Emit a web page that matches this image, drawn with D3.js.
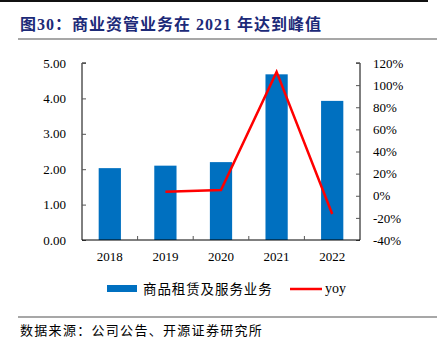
<!DOCTYPE html>
<html><head><meta charset="utf-8">
<script src="https://cdn.jsdelivr.net/npm/d3@7"></script>
<style>body{margin:0;background:#fff}svg{display:block}</style>
</head><body>
<svg id="c" width="437" height="349"></svg>
<script>
const categories = ["2018","2019","2020","2021","2022"];
const revenue = [2.03, 2.10, 2.20, 4.68, 3.93];
const yoy = [null, 3.7, 5.2, 112, -16.5];
const leftTicks = [0,1,2,3,4,5];
const rightTicks = [-40,-20,0,20,40,60,80,100,120];
const title = "图30：商业资管业务在 2021 年达到峰值";
const seriesNames = ["商品租赁及服务业务","yoy"];
const source = "数据来源：公司公告、开源证券研究所";

const svg = d3.select("#c");
const serif = "'Liberation Serif','Times New Roman',serif";
const cjk = "'Noto Sans CJK SC','Noto Sans CJK JP',sans-serif";
const mixed = "'Liberation Serif','Noto Sans CJK SC',serif";

// header lines
svg.append("line").attr("x1",0).attr("x2",428).attr("y1",1).attr("y2",1).attr("stroke","#111").attr("stroke-width",2);
svg.append("text").attr("x",20).attr("y",30).attr("font-family",mixed).attr("font-weight","bold")
  .attr("font-size",16).attr("letter-spacing",1).attr("fill","#1c2a78").text(title);
svg.append("line").attr("x1",18).attr("x2",437).attr("y1",39).attr("y2",39).attr("stroke","#8a8a8a").attr("stroke-width",1.5);

const L=82, R=360, T=63, B=240;
const x = d3.scaleBand().domain(categories).range([L,R]).padding(0);
const yL = d3.scaleLinear().domain([0,5]).range([B,T]);
const yR = d3.scaleLinear().domain([-40,120]).range([B,T]);
const bw = x.step()*0.4;

svg.append("g").selectAll("rect").data(categories).join("rect")
  .attr("x",d=>x(d)+x.bandwidth()/2-bw/2).attr("width",bw)
  .attr("y",(d,i)=>yL(revenue[i])).attr("height",(d,i)=>B-yL(revenue[i]))
  .attr("fill","#0070c0");

// left axis
const gl = svg.append("g").attr("transform",`translate(${L},0)`)
  .call(d3.axisRight(yL).tickValues(leftTicks).tickSize(4).tickFormat(d3.format(".2f")));
gl.select(".domain").attr("stroke","#000").attr("d",`M4,${T}H0V${B}`);
gl.selectAll(".tick line").attr("stroke","#555");
gl.selectAll("text").attr("x",-16).attr("text-anchor","end").attr("font-family",serif).attr("font-size",13).attr("fill","#000");

// right axis
const gr = svg.append("g").attr("transform",`translate(${R},0)`)
  .call(d3.axisLeft(yR).tickValues(rightTicks).tickSize(4).tickFormat(d=>d+"%"));
gr.select(".domain").attr("stroke","#000").attr("d",`M-4,${T}H0V${B}`);
gr.selectAll(".tick line").attr("stroke","#555");
gr.selectAll("text").attr("x",13).attr("text-anchor","start").attr("font-family",serif).attr("font-size",13).attr("fill","#000");

// x axis
const gx = svg.append("g").attr("transform",`translate(0,${B})`)
  .call(d3.axisBottom(x).tickSize(0).tickPadding(12));
gx.select(".domain").attr("stroke","#000").attr("d",`M${L},0H${R}`);
gx.selectAll("text").attr("font-family",serif).attr("font-size",13).attr("fill","#000");
svg.append("g").selectAll("line").data(categories.slice(1)).join("line")
  .attr("x1",d=>x(d)).attr("x2",d=>x(d)).attr("y1",B).attr("y2",B-4).attr("stroke","#555");

// yoy line
const line = d3.line().defined(d=>d.v!==null).x(d=>x(d.c)+x.bandwidth()/2).y(d=>yR(d.v));
svg.append("path").datum(categories.map((c,i)=>({c,v:yoy[i]})))
  .attr("d",line).attr("fill","none").attr("stroke","#ff0000").attr("stroke-width",2.5);

// legend
const ly = 289;
svg.append("rect").attr("x",107).attr("y",ly-4).attr("width",30).attr("height",7).attr("fill","#0070c0");
svg.append("text").attr("x",143).attr("y",ly+5).attr("font-family",cjk).attr("font-size",13.5).attr("letter-spacing",0.9).attr("fill","#000").text(seriesNames[0]);
svg.append("line").attr("x1",290).attr("x2",322).attr("y1",ly).attr("y2",ly).attr("stroke","#ff0000").attr("stroke-width",2.5);
svg.append("text").attr("x",325).attr("y",ly+4).attr("font-family",serif).attr("font-size",14).attr("fill","#000").text(seriesNames[1]);

// footer
svg.append("line").attr("x1",18).attr("x2",437).attr("y1",317).attr("y2",317).attr("stroke","#8a8a8a").attr("stroke-width",1.5);
svg.append("text").attr("x",20).attr("y",335).attr("font-family",cjk).attr("font-size",13).attr("letter-spacing",1.3).attr("fill","#000").text(source);
</script>
</body></html>
